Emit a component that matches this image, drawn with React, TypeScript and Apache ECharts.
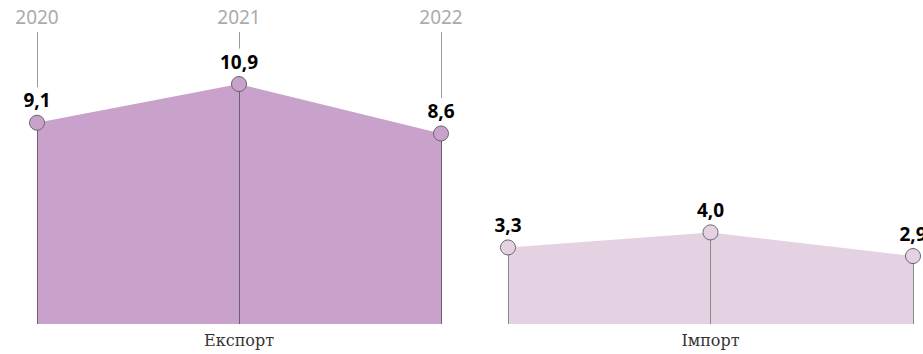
import React, { useEffect, useRef } from "react";
import * as echarts from "echarts";

const years = ["2020", "2021", "2022"];
const exportValues = [9.1, 10.9, 8.6];
const importValues = [3.3, 4.0, 2.9];
const groupNames = ["Експорт", "Імпорт"];

const Y_MIN = -0.26;
const Y_MAX = 13.32;
const fmt = (v: number) => v.toFixed(1).replace(".", ",");

function buildSeries(idx: number, values: number[], fill: string, dropColor: string, withYearTicks: boolean) {
  const drops = values.map((v, i) => [
    { coord: [years[i], v], lineStyle: { color: dropColor, width: 1, type: "solid" } },
    { coord: [years[i], Y_MIN] },
  ]);
  const ticks = withYearTicks
    ? values.map((v, i) => [
        { coord: [years[i], Y_MAX], lineStyle: { color: "#9a9a9a", width: 1, type: "solid" } },
        { coord: [years[i], v + 1.65] },
      ])
    : [];
  return [
    {
      type: "line",
      xAxisIndex: idx === 0 ? 0 : 2,
      yAxisIndex: idx,
      data: values,
      showSymbol: false,
      lineStyle: { width: 0 },
      areaStyle: { color: fill, opacity: 1, origin: "start" },
      z: 1,
      silent: true,
    },
    {
      type: "line",
      xAxisIndex: idx === 0 ? 0 : 2,
      yAxisIndex: idx,
      data: [],
      z: 2,
      silent: true,
      markLine: {
        silent: true,
        z: 2,
        symbol: "none",
        label: { show: false },
        animation: false,
        data: [...drops, ...ticks],
      },
    },
    {
      type: "line",
      xAxisIndex: idx === 0 ? 0 : 2,
      yAxisIndex: idx,
      data: values,
      lineStyle: { width: 0 },
      symbol: "circle",
      symbolSize: 15,
      itemStyle: { color: fill, borderColor: "#666", borderWidth: 1 },
      label: {
        show: true,
        position: "top",
        distance: 5,
        formatter: (p: any) => fmt(p.value),
        color: "#000",
        fontFamily: "Noto Sans",
        fontWeight: "bold",
        fontSize: 19,
      },
      z: 10,
      silent: true,
    },
  ];
}

export default function App() {
  const ref = useRef<HTMLDivElement>(null);
  useEffect(() => {
    if (!ref.current) return;
    const chart = echarts.init(ref.current, null, { renderer: "svg" });
    const nameStyle = {
      fontFamily: "DejaVu Serif",
      fontSize: 16,
      color: "#333",
    };
    chart.setOption({
      animation: false,
      grid: [
        { left: 37, top: 32, width: 404, height: 292, outerBoundsMode: "none", containLabel: false },
        { left: 508, top: 32, width: 405, height: 292, outerBoundsMode: "none", containLabel: false },
      ],
      xAxis: [
        {
          type: "category",
          gridIndex: 0,
          data: years,
          boundaryGap: false,
          axisLine: { show: false },
          axisTick: { show: false },
          axisLabel: { show: false },
          name: groupNames[0],
          nameLocation: "middle",
          nameGap: 8,
          nameTextStyle: nameStyle,
        },
        {
          type: "category",
          gridIndex: 0,
          position: "top",
          data: years,
          boundaryGap: false,
          axisLine: { show: false },
          axisTick: { show: false },
          axisLabel: {
            show: true,
            margin: 6,
            color: "#ababab",
            fontFamily: "Noto Sans",
            fontSize: 19,
            interval: 0,
          },
        },
        {
          type: "category",
          gridIndex: 1,
          data: years,
          boundaryGap: false,
          axisLine: { show: false },
          axisTick: { show: false },
          axisLabel: { show: false },
          name: groupNames[1],
          nameLocation: "middle",
          nameGap: 8,
          nameTextStyle: nameStyle,
        },
      ],
      yAxis: [
        { type: "value", gridIndex: 0, min: Y_MIN, max: Y_MAX, show: false, splitLine: { show: false } },
        { type: "value", gridIndex: 1, min: Y_MIN, max: Y_MAX, show: false, splitLine: { show: false } },
      ],
      series: [
        ...buildSeries(0, exportValues, "#c8a2cb", "#6e5f70", true),
        ...buildSeries(1, importValues, "#e4d2e3", "#8a8a8a", false),
      ],
    });
    return () => chart.dispose();
  }, []);
  return (
    <div
      ref={ref}
      style={{ position: "fixed", left: 0, top: 0, width: 923, height: 354, background: "#fff" }}
    />
  );
}
